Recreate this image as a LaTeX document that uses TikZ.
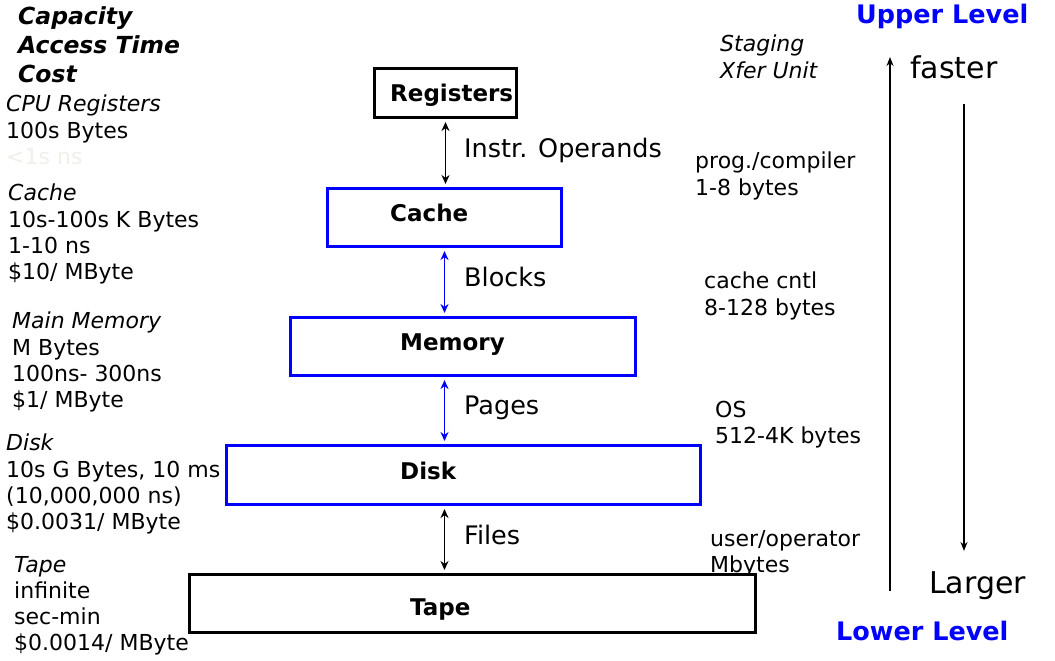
\documentclass[tikz,border=0pt]{standalone}
\usepackage{fontspec}
\setmainfont{DejaVu Sans}
\usetikzlibrary{arrows.meta}
\definecolor{lvlblue}{RGB}{0,0,255}
\definecolor{faint}{RGB}{240,239,233}
\begin{document}
\begin{tikzpicture}[x=1pt,y=-1pt,
  body/.style={font=\fontsize{22}{26.2}\selectfont, inner sep=0pt, align=left, anchor=north west},
  head/.style={font=\fontsize{23.5}{29}\selectfont\bfseries\itshape, inner sep=0pt, align=left, anchor=north west},
  boxlbl/.style={font=\fontsize{23}{27}\selectfont\bfseries, inner sep=0pt, anchor=base west},
  conn/.style={font=\fontsize{25.5}{30}\selectfont, inner sep=0pt, anchor=base west},
  lvl/.style={font=\fontsize{25.5}{30}\selectfont\bfseries, text=lvlblue, inner sep=0pt, anchor=base west},
  bigw/.style={font=\fontsize{30}{34}\selectfont, inner sep=0pt, anchor=base west},
  blkbox/.style={draw=black, line width=3pt, inner sep=0pt, fill=white},
  blubox/.style={draw=lvlblue, line width=3pt, inner sep=0pt, fill=white},
  link/.style={<->, >={Stealth[length=9pt,width=8pt]}, line width=1.8pt, shorten <=3pt, shorten >=3pt},
  side/.style={->, >={Stealth[length=9pt,width=7pt]}, line width=1.6pt}
]
\useasboundingbox (0,0) rectangle (1055,661);

% left header
\node[head] (hdr) at (18,6) {Capacity\\Access Time\\Cost};

% left descriptions
\node[body] (dreg) at (6,95) {\itshape CPU Registers\\100s Bytes\\\textcolor{faint}{<1s ns}};
\node[body] (dcache) at (8,184) {\itshape Cache\\10s-100s K Bytes\\1-10 ns\\\$10/ MByte};
\node[body] (dmem) at (12,312) {\itshape Main Memory\\M Bytes\\100ns- 300ns\\\$1/ MByte};
\node[body] (ddisk) at (6,434) {\itshape Disk\\10s G Bytes, 10 ms\\(10,000,000 ns)\\\$0.0031/ MByte};
\node[body] (dtape) at (14,556) {\itshape Tape\\infinite\\sec-min\\\$0.0014/ MByte};

% right descriptions
\node[body] (rstage) at (720,35) {\itshape Staging\\\itshape Xfer Unit};
\node[body] (rprog) at (695,152) {prog./compiler\\1-8 bytes};
\node[body] (rcc) at (704,272) {cache cntl\\8-128 bytes};
\node[body] (ros) at (715,401) {OS\\512-4K bytes};
\node[body] (ruser) at (710,530) {user/operator\\Mbytes};

% boxes
\node[blkbox, minimum width=142pt, minimum height=49pt] (reg) at (445.5,93) {};
\node[blubox, minimum width=234pt, minimum height=58pt] (cache) at (444.5,217.5) {};
\node[blubox, minimum width=345pt, minimum height=58pt] (mem) at (463,346.5) {};
\node[blubox, minimum width=474pt, minimum height=59pt] (disk) at (463.5,475) {};
\node[blkbox, minimum width=566pt, minimum height=58pt] (tape) at (472.5,603.5) {};

\node[boxlbl] (lreg) at (390,101) {Registers};
\node[boxlbl] (lcache) at (390,221) {Cache};
\node[boxlbl] (lmem) at (400,350) {Memory};
\node[boxlbl] (ldisk) at (400,479) {Disk};
\node[boxlbl] (ltape) at (410,615) {Tape};

% connectors
\draw[link] (reg.south) -- (reg.south |- cache.north);
\draw[link, lvlblue] (cache.south) -- (cache.south |- mem.north);
\draw[link, lvlblue] (cache.south |- mem.south) -- (cache.south |- disk.north);
\draw[link] (cache.south |- disk.south) -- (cache.south |- tape.north);

\node[conn] (cinstr) at (464,157) {Instr. Operands};
\node[conn] (cblk) at (464,286) {Blocks};
\node[conn] (cpg) at (464,414) {Pages};
\node[conn] (cfile) at (464,544) {Files};

% right side scale
\node[lvl] (upper) at (856,24) {Upper Level};
\node[lvl] (lower) at (836,640) {Lower Level};
\node[bigw] (faster) at (910,78) {faster};
\node[bigw] (larger) at (929,593) {Larger};
\coordinate (upS) at (890,591);
\coordinate (upE) at (890,57);
\coordinate (dnS) at (964,104);
\coordinate (dnE) at (964,551);
\draw[side] (upS) -- (upE);
\draw[side] (dnS) -- (dnE);
\end{tikzpicture}
\end{document}
